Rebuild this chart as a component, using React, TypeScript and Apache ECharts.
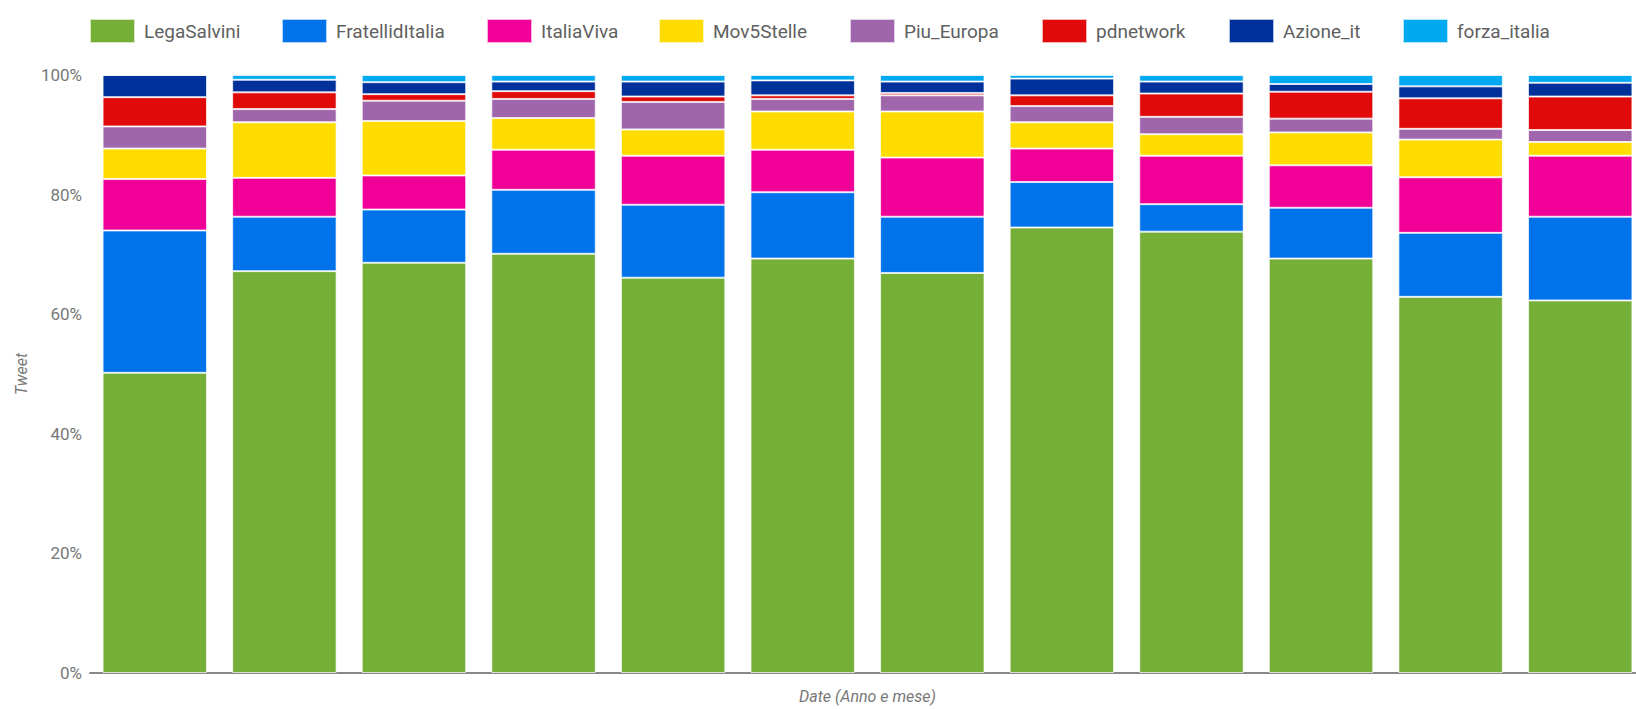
import React, { useEffect, useRef } from "react";
import * as echarts from "echarts";

const categories = ["1", "2", "3", "4", "5", "6", "7", "8", "9", "10", "11", "12"];
const seriesNames = ["LegaSalvini", "FratellidItalia", "ItaliaViva", "Mov5Stelle", "Piu_Europa", "pdnetwork", "Azione_it", "forza_italia"];
const legaSalvini = [50.2, 67.2, 68.6, 70.1, 66.1, 69.3, 66.9, 74.5, 73.8, 69.3, 62.9, 62.3];
const fratelliItalia = [23.8, 9.1, 8.9, 10.7, 12.2, 11.1, 9.4, 7.6, 4.6, 8.5, 10.7, 14.0];
const italiaViva = [8.6, 6.5, 5.7, 6.7, 8.2, 7.1, 9.9, 5.6, 8.1, 7.1, 9.3, 10.2];
const mov5Stelle = [5.1, 9.3, 9.1, 5.3, 4.4, 6.4, 7.7, 4.4, 3.6, 5.5, 6.3, 2.3];
const piuEuropa = [3.7, 2.2, 3.4, 3.2, 4.6, 2.1, 2.7, 2.7, 2.9, 2.3, 1.8, 2.0];
const pdnetwork = [4.9, 2.8, 1.1, 1.3, 0.9, 0.6, 0.4, 1.8, 3.9, 4.5, 5.1, 5.6];
const azioneIt = [3.7, 2.1, 2.0, 1.6, 2.5, 2.5, 1.9, 2.8, 2.0, 1.3, 2.0, 2.3];
const forzaItalia = [0, 0.8, 1.2, 1.1, 1.1, 0.9, 1.1, 0.6, 1.1, 1.5, 1.9, 1.3];
const yTicks = [0, 20, 40, 60, 80, 100];

const colors = ["#75AF37", "#0073EB", "#F00096", "#FFDC00", "#9F66AB", "#E00A0A", "#00309A", "#00A9F0"];
// layout: left edge of each legend entry
const legendLefts = [89, 281, 486, 658, 849, 1041, 1228, 1402];

export default function App() {
  const ref = useRef<HTMLDivElement>(null);
  useEffect(() => {
    if (!ref.current) return;
    const chart = echarts.init(ref.current, undefined, { renderer: "svg" });
    const values = [legaSalvini, fratelliItalia, italiaViva, mov5Stelle, piuEuropa, pdnetwork, azioneIt, forzaItalia];
    chart.setOption({
      animation: false,
      backgroundColor: "#ffffff",
      color: colors,
      textStyle: { fontFamily: "Roboto" },
      legend: seriesNames.map((name, i) => ({
        top: 18,
        left: legendLefts[i],
        padding: 0,
        itemWidth: 45,
        itemHeight: 24,
        icon: "rect",
        selectedMode: false,
        textStyle: { fontSize: 19, color: "#5f5f5f", fontFamily: "Roboto", padding: [0, 0, 0, 4] },
        data: [name],
      })),
      grid: { left: 90, right: 0, top: 75, bottom: 30, containLabel: false },
      xAxis: {
        type: "category",
        data: categories,
        name: "Date (Anno e mese)",
        nameLocation: "middle",
        nameGap: 15,
        nameTextStyle: { fontStyle: "italic", fontSize: 16, color: "#777", fontFamily: "Roboto" },
        axisLine: { show: true, lineStyle: { color: "#888", width: 2 } },
        axisTick: { show: false },
        axisLabel: { show: false },
      },
      yAxis: {
        type: "value",
        min: yTicks[0],
        max: yTicks[yTicks.length - 1],
        interval: 20,
        name: "Tweet",
        nameLocation: "middle",
        nameGap: 51,
        nameTextStyle: { fontStyle: "italic", fontSize: 16, color: "#777", fontFamily: "Roboto" },
        axisLine: { show: false },
        axisTick: { show: false },
        splitLine: { show: false },
        axisLabel: { formatter: "{value}%", fontSize: 17, color: "#777", margin: 8, fontFamily: "Roboto" },
      },
      series: seriesNames.map((name, i) => ({
        name,
        type: "bar",
        stack: "total",
        barCategoryGap: "19.4%",
        data: values[i],
        itemStyle: { color: colors[i], borderColor: "rgba(255,255,255,0.7)", borderWidth: 1 },
      })),
    });
    return () => chart.dispose();
  }, []);
  return (
    <div style={{ position: "fixed", left: 0, top: 0, width: 1636, height: 709, overflow: "hidden", background: "#fff" }}>
      <div ref={ref} style={{ width: 1645, height: 709 }} />
    </div>
  );
}
